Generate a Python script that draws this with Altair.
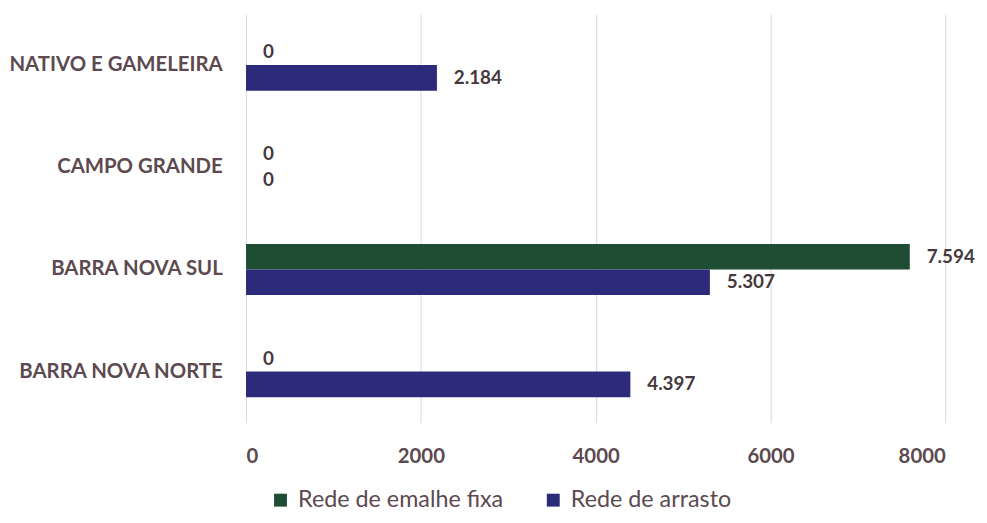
import altair as alt
import pandas as pd

categories = ["NATIVO E GAMELEIRA", "CAMPO GRANDE", "BARRA NOVA SUL", "BARRA NOVA NORTE"]
series = ["Rede de emalhe fixa", "Rede de arrasto"]
emalhe_fixa = [0, 0, 7594, 0]
arrasto = [2184, 0, 5307, 4397]
x_ticks = [0, 2000, 4000, 6000, 8000]
colors = ["#1F4D34", "#2C2A7A"]

rows = []
for i, c in enumerate(categories):
    for s, vals in zip(series, [emalhe_fixa, arrasto]):
        v = vals[i]
        rows.append({"cat": c, "serie": s, "valor": v,
                     "rotulo": f"{v:,}".replace(",", ".")})
df = pd.DataFrame(rows)

FONT = "Lato"
TXT = "#5c4a50"

y_enc = alt.Y("cat:N", sort=categories, title=None,
              scale=alt.Scale(paddingInner=0.5, paddingOuter=0.25),
              axis=alt.Axis(labelFontSize=20.5, labelFont=FONT, labelFontWeight="bold",
                            labelColor=TXT, labelPadding=24, ticks=False, domain=False,
                            grid=False, labelLimit=300))
x_enc = alt.X("valor:Q", title=None,
              scale=alt.Scale(domain=[0, 8000], nice=False),
              axis=alt.Axis(values=x_ticks, format="d", labelFontSize=20.5, labelFont=FONT,
                            labelFontWeight="bold", labelColor=TXT, labelPadding=24,
                            ticks=False, domain=False, grid=True, gridColor="#d9d9d9",
                            gridWidth=1))
yoff = alt.YOffset("serie:N", sort=series)

bars = alt.Chart(df).mark_bar().encode(
    y=y_enc, x=x_enc, yOffset=yoff,
    color=alt.Color("serie:N", sort=series,
                    scale=alt.Scale(domain=series, range=colors),
                    legend=alt.Legend(title=None, orient="none", direction="horizontal",
                                      legendX=23, legendY=478, symbolType="square",
                                      symbolSize=169, symbolStrokeWidth=0,
                                      labelFontSize=23.5, labelFont=FONT, labelColor=TXT,
                                      columnPadding=38, labelOffset=6, padding=0,
                                      labelLimit=400)),
)

labels = alt.Chart(df).mark_text(align="left", baseline="middle", dx=17,
                                  fontSize=19, font=FONT, fontWeight="bold",
                                  color="#45393d").encode(
    y=alt.Y("cat:N", sort=categories), x="valor:Q", yOffset=yoff, text="rotulo:N"
)

chart = alt.layer(bars, labels).properties(
    width=705, height=412,
    autosize=alt.AutoSizeParams(type="none"),
    padding={"left": 240, "top": 4, "right": 34, "bottom": 91},
).configure_view(stroke=None)

chart.save("out.html", embed_options={"renderer": "svg", "actions": False})
